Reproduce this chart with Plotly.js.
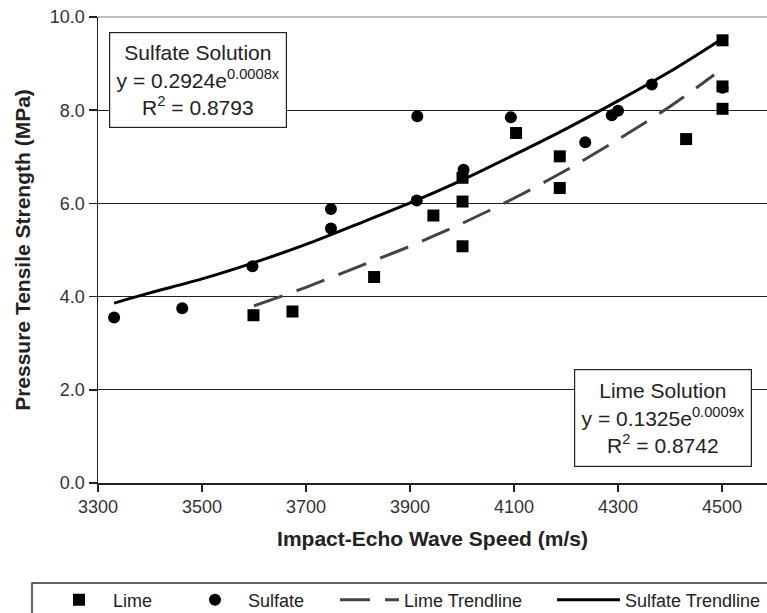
<!DOCTYPE html>
<html><head><meta charset="utf-8">
<script src="https://cdn.plot.ly/plotly-3.0.1.min.js"></script>
<style>html,body{margin:0;padding:0;background:#fff}#chart{width:767px;height:613px}</style>
</head><body><div id="chart"></div>
<script>
// Lime solution specimens (squares)
const limeX = [3599, 3674, 3831, 3945, 4001, 4001, 4001, 4104, 4188, 4188, 4431, 4501, 4501, 4501];
const limeY = [3.60, 3.68, 4.42, 5.74, 6.55, 6.04, 5.08, 7.51, 7.01, 6.33, 7.38, 9.50, 8.51, 8.03];
// Sulfate solution specimens (circles)
const sulfateX = [3331, 3462, 3597, 3748, 3748, 3913, 3914, 4003, 4094, 4237, 4288, 4300, 4365, 4501];
const sulfateY = [3.55, 3.75, 4.65, 5.88, 5.46, 6.06, 7.87, 6.72, 7.85, 7.31, 7.89, 7.99, 8.55, 8.48];
// Trendlines
const limeTrendX = [3600, 3700, 3800, 3900, 4000, 4100, 4200, 4300, 4400, 4485];
const limeTrendY = [3.80, 4.20, 4.64, 5.08, 5.57, 6.11, 6.71, 7.37, 8.08, 8.76];
const sulfateTrendX = [3331, 3400, 3500, 3600, 3700, 3800, 3900, 4000, 4100, 4200, 4300, 4400, 4500];
const sulfateTrendY = [3.86, 4.08, 4.38, 4.73, 5.12, 5.56, 6.01, 6.50, 7.04, 7.60, 8.20, 8.83, 9.53];
// Axis ticks
const xTicks = [3300, 3500, 3700, 3900, 4100, 4300, 4500];
const yTicks = [0, 2, 4, 6, 8, 10];
// Labels
const seriesNames = ['Lime', 'Sulfate', 'Lime Trendline', 'Sulfate Trendline'];
const xTitle = 'Impact-Echo Wave Speed (m/s)';
const yTitle = 'Pressure Tensile Strength (MPa)';
const sulfateBox = 'Sulfate Solution<br>y = 0.2924e<sup>0.0008x</sup><br>R<sup>2</sup> = 0.8793';
const limeBox = 'Lime Solution<br>y = 0.1325e<sup>0.0009x</sup><br>R<sup>2</sup> = 0.8742';

const FONT = 'Liberation Sans, Arial, Helvetica, sans-serif';
const L = 98, W = 669, T = 17, H = 466;
const px = v => (v - L) / W;
const py = v => (T + H - v) / H;

const traces = [
  {x: limeX, y: limeY, type: 'scatter', mode: 'markers', name: seriesNames[0], legend: 'legend',
   marker: {symbol: 'square', size: 12, color: '#000'}},
  {x: sulfateX, y: sulfateY, type: 'scatter', mode: 'markers', name: seriesNames[1], legend: 'legend2',
   marker: {symbol: 'circle', size: 12, color: '#000'}},
  {x: limeTrendX, y: limeTrendY, type: 'scatter', mode: 'lines', name: seriesNames[2], legend: 'legend3',
   line: {color: '#444', width: 3, dash: '30px,15px', shape: 'spline', smoothing: 0.8}},
  {x: sulfateTrendX, y: sulfateTrendY, type: 'scatter', mode: 'lines', name: seriesNames[3], legend: 'legend4',
   line: {color: '#000', width: 3, shape: 'spline', smoothing: 0.8}}
];

function leg(startPx, itemW) {
  return {
    orientation: 'h', x: px(startPx), xanchor: 'left', y: py(600), yanchor: 'middle',
    font: {family: FONT, size: 18, color: '#222'}, bgcolor: 'rgba(0,0,0,0)',
    borderwidth: 0, itemwidth: itemW, itemclick: false, itemdoubleclick: false
  };
}

const layout = {
  width: 767, height: 613,
  margin: {l: L, r: 767 - L - W, t: T, b: 613 - T - H, pad: 0, autoexpand: false},
  paper_bgcolor: '#fff', plot_bgcolor: '#fff',
  font: {family: FONT, color: '#222'},
  showlegend: true,
  xaxis: {
    range: [3300, 3300 + W / 0.52], tickvals: xTicks, ticktext: xTicks.map(String),
    showgrid: false, zeroline: false, showline: true, linecolor: '#222', linewidth: 1.5,
    ticks: 'outside', ticklen: 7, tickwidth: 1.5, tickcolor: '#222',
    tickfont: {family: FONT, size: 18, color: '#333'},
    title: {text: '<b>' + xTitle + '</b>', font: {family: FONT, size: 21, color: '#222'}, standoff: 15}
  },
  yaxis: {
    range: [0, 10], tickvals: yTicks, tickformat: '.1f',
    showgrid: true, gridcolor: '#222', gridwidth: 1, zeroline: false,
    showline: true, linecolor: '#222', linewidth: 1.5,
    ticks: 'outside', ticklen: 8, tickwidth: 1.5, tickcolor: '#222',
    tickfont: {family: FONT, size: 18, color: '#333'},
    title: {text: '<b>' + yTitle + '</b>', font: {family: FONT, size: 21, color: '#222'}, standoff: 13}
  },
  legend: leg(45, 58),
  legend2: leg(182, 56),
  legend3: leg(335, 59),
  legend4: leg(552, 63),
  shapes: [
    {type: 'rect', xref: 'paper', yref: 'paper', x0: px(32), x1: px(790), y0: py(583), y1: py(640),
     line: {color: '#333', width: 1.5}, fillcolor: 'rgba(0,0,0,0)', layer: 'below'},
    {type: 'line', xref: 'paper', yref: 'paper', x0: 0, x1: 1, y0: 1, y1: 1,
     line: {color: '#aaa', width: 1.5}}
  ],
  annotations: [
    {text: sulfateBox, xref: 'paper', yref: 'paper', x: px(198), y: py(80), xanchor: 'center', yanchor: 'middle',
     showarrow: false, align: 'center', width: 176, height: 94, bgcolor: '#fff', bordercolor: '#222', borderwidth: 1.2, borderpad: 0,
     font: {family: FONT, size: 21, color: '#222'}},
    {text: limeBox, xref: 'paper', yref: 'paper', x: px(663), y: py(418), xanchor: 'center', yanchor: 'middle',
     showarrow: false, align: 'center', width: 176, height: 96, bgcolor: '#fff', bordercolor: '#222', borderwidth: 1.2, borderpad: 0,
     font: {family: FONT, size: 21, color: '#222'}}
  ]
};

Plotly.newPlot('chart', traces, layout, {staticPlot: true, displayModeBar: false});
</script>
</body></html>
